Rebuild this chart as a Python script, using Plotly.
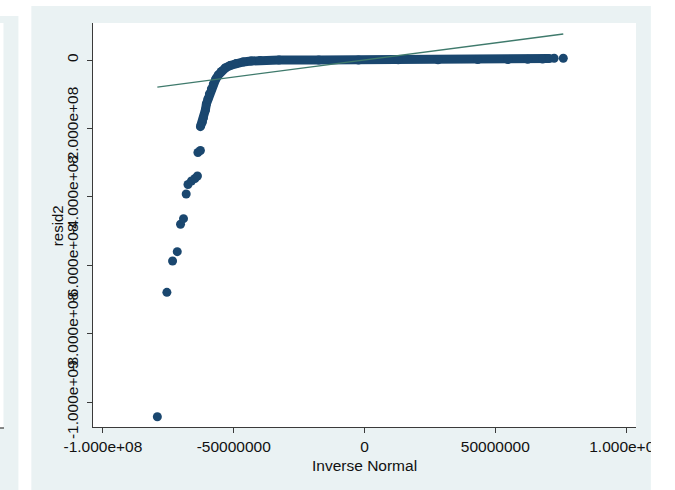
import plotly.graph_objects as go

# ---- data (Stata qnorm of resid2) ----
# sparse lower tail (inverse normal quantile, resid2)
tail_x = [-7.92e7, -7.555e7, -7.338e7, -7.159e7, -7.034e7, -6.920e7, -6.817e7,
          -6.749e7, -6.616e7, -6.482e7, -6.387e7, -6.369e7, -6.273e7]
tail_y = [-1.043e9, -6.793e8, -5.877e8, -5.605e8, -4.804e8, -4.640e8, -3.918e8,
          -3.640e8, -3.538e8, -3.465e8, -3.392e8, -2.705e8, -2.646e8]
# dense body of the distribution (markers overlap into a solid band)
body_x = [-6.273e7, -6.197e7, -6.159e7, -6.083e7, -6.045e7, -5.988e7, -5.931e7,
          -5.855e7, -5.779e7, -5.684e7, -5.589e7, -5.475e7, -5.323e7, -5.133e7,
          -4.905e7, -4.638e7, -4.334e7, -3.992e7, -3.27e7, -1.75e7, -2.3e6,
          1.29e7, 2.81e7, 4.33e7, 5.48e7, 6.24e7, 6.81e7, 7.07e7]
body_y = [-1.950e8, -1.813e8, -1.696e8, -1.462e8, -1.287e8, -1.140e8, -9.94e7,
          -8.48e7, -7.02e7, -5.56e7, -4.39e7, -3.36e7, -2.34e7, -1.61e7,
          -1.02e7, -5.8e6, -2.9e6, -1.5e6, 0.0, 0.0, 0.0,
          6e5, 9e5, 1.2e6, 1.5e6, 2.3e6, 2.9e6, 4.1e6]
# upper tail
top_x = [7.25e7, 7.60e7]
top_y = [5e6, 5e6]
# reference line (y = x over the range of the normal quantiles)
ref_x = [-7.92e7, 7.60e7]
ref_y = [-7.92e7, 7.60e7]

x_tickvals = [-1e8, -5e7, 0, 5e7, 1e8]
x_ticktext = ["-1.000e+08", "-50000000", "0", "50000000", "1.000e+08"]
y_tickvals = [0, -2e8, -4e8, -6e8, -8e8, -1e9]
y_ticktext = ["0", "-2.000e+08", "-4.000e+08", "-6.000e+08", "-8.000e+08", "-1.000e+09"]

x_title = "Inverse Normal"
y_title = "resid2"

# ---- styling ----
W, H = 675, 490
L, R, T, B = 93, 36, 23, 63
PW, PH = W - L - R, H - T - B
NAVY = "#1a476f"
LINE = "#3f7a6c"
PANEL = "#eaf2f3"
AXIS = "#3a3a3a"
FONT = "Liberation Sans, Arial, sans-serif"
MS = 9


def px_x(p):
    return (p - L) / PW


def px_y(p):
    return (H - B - p) / PH


fig = go.Figure()
fig.add_trace(go.Scatter(x=body_x, y=body_y, mode="lines+markers",
                         line=dict(color=NAVY, width=MS),
                         marker=dict(color=NAVY, size=MS),
                         hoverinfo="skip", showlegend=False))
fig.add_trace(go.Scatter(x=tail_x + top_x, y=tail_y + top_y, mode="markers",
                         marker=dict(color=NAVY, size=MS),
                         showlegend=False))
fig.add_trace(go.Scatter(x=ref_x, y=ref_y, mode="lines",
                         line=dict(color=LINE, width=1.3),
                         showlegend=False))

shapes = [
    # main graph region
    dict(type="rect", xref="paper", yref="paper", layer="below",
         x0=px_x(31), x1=px_x(654), y0=px_y(495), y1=px_y(6),
         fillcolor=PANEL, line=dict(width=0)),
    # white plot region
    dict(type="rect", xref="paper", yref="paper", layer="below",
         x0=0, x1=1, y0=0, y1=1, fillcolor="white", line=dict(width=0)),
    # neighbouring graph on the left
    dict(type="rect", xref="paper", yref="paper", layer="below",
         x0=px_x(-5), x1=px_x(18), y0=px_y(495), y1=px_y(16),
         fillcolor=PANEL, line=dict(width=0)),
    dict(type="rect", xref="paper", yref="paper", layer="below",
         x0=px_x(-5), x1=px_x(3), y0=px_y(428), y1=px_y(23),
         fillcolor="white", line=dict(width=0)),
    dict(type="line", xref="paper", yref="paper", layer="below",
         x0=px_x(-5), x1=px_x(3.5), y0=px_y(428), y1=px_y(428),
         line=dict(color=AXIS, width=1.2)),
    # clip at the right edge of the graph region
    dict(type="rect", xref="paper", yref="paper", layer="above",
         x0=px_x(654), x1=px_x(680), y0=px_y(495), y1=px_y(-5),
         fillcolor="white", line=dict(width=0)),
]

fig.update_layout(
    width=W, height=H, autosize=False,
    margin=dict(l=L, r=R, t=T, b=B, pad=0),
    paper_bgcolor="white", plot_bgcolor="white",
    font=dict(family=FONT, size=15.5, color="#111111"),
    shapes=shapes,
    annotations=[
        dict(text=x_title, xref="paper", yref="paper", x=0.5, y=px_y(465),
             xanchor="center", yanchor="middle", showarrow=False,
             font=dict(family=FONT, size=15.5, color="#111111")),
        dict(text=y_title, xref="paper", yref="paper", x=px_x(57), y=px_y(226),
             xanchor="center", yanchor="middle", textangle=-90, showarrow=False,
             font=dict(family=FONT, size=15, color="#111111")),
    ],
    xaxis=dict(range=[-1.038e8, 1.038e8], tickvals=x_tickvals, ticktext=x_ticktext,
               ticks="outside", ticklen=5, tickwidth=1.2, tickcolor=AXIS,
               showline=True, linecolor=AXIS, linewidth=1.3,
               showgrid=False, zeroline=False, tickangle=0,
               tickfont=dict(family=FONT, size=15.5, color="#111111")),
    yaxis=dict(range=[-1.0731e9, 1.082e8], tickvals=y_tickvals, ticktext=y_ticktext,
               ticks="outside", ticklen=5, tickwidth=1.2, tickcolor=AXIS,
               showline=True, linecolor=AXIS, linewidth=1.3,
               showgrid=False, zeroline=False, tickangle=-90,
               ticklabelstandoff=3,
               tickfont=dict(family=FONT, size=15.5, color="#111111")),
)

fig.write_html("out.html",
               config={"displayModeBar": False},
               post_script="document.body.style.margin='0px';")
